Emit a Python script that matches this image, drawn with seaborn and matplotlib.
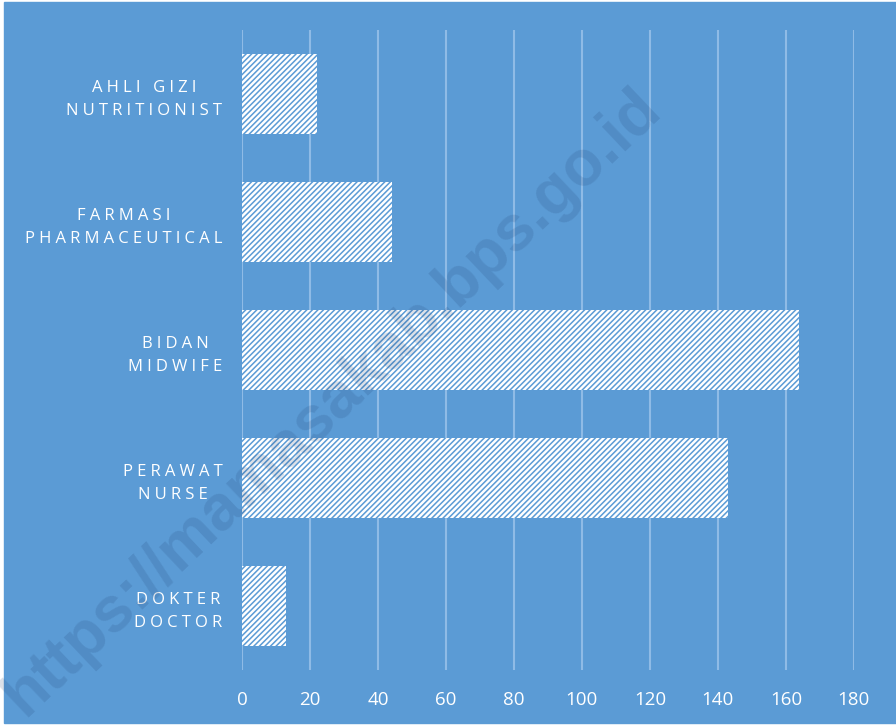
import matplotlib
matplotlib.use("Agg")
import matplotlib.pyplot as plt
import seaborn as sns
import pandas as pd

# data, top to bottom
categories = ["AHLI GIZI\nNUTRITIONIST", "FARMASI\nPHARMACEUTICAL", "BIDAN\nMIDWIFE",
              "PERAWAT\nNURSE", "DOKTER\nDOCTOR"]
values = [22, 44, 164, 143, 13]
xticks = [0, 20, 40, 60, 80, 100, 120, 140, 160, 180]

BG = "#5B9BD5"
GRID = "#8FBBE6"

sns.set_style("white")
plt.rcParams["font.family"] = ["Open Sans", "DejaVu Sans"]
plt.rcParams["hatch.linewidth"] = 1.1


def spaced(label):
    # widen the letter spacing like the original labels
    return "\n".join("\u2005".join(line) for line in label.split("\n"))


df = pd.DataFrame({"cat": categories, "val": values})

fig = plt.figure(figsize=(8.96, 7.25), dpi=100)
fig.patch.set_facecolor("white")
fig.patches.append(plt.Rectangle((4 / 896, 2 / 725), 1, 1 - 4 / 725,
                                 transform=fig.transFigure, color=BG, zorder=-10))
ax = fig.add_axes([0.270, 0.0759, 0.683, 0.8827])
ax.set_facecolor(BG)

sns.barplot(data=df, x="val", y="cat", orient="h", color="white", width=0.625,
            ax=ax, zorder=3)
for p in ax.patches:
    p.set_facecolor("white")
    p.set_edgecolor(BG)
    p.set_linewidth(0)
    p.set_hatch("//////")

ax.set_xlim(0, 180)
ax.set_xticks(xticks)
ax.xaxis.grid(True, color=GRID, linewidth=1.5, zorder=0)
ax.set_axisbelow(True)
for s in ax.spines.values():
    s.set_visible(False)
ax.tick_params(axis="both", length=0)
ax.tick_params(axis="x", colors="white", labelsize=13.5, pad=15)
ax.set_yticks(range(len(categories)))
ax.set_yticklabels([spaced(c) for c in categories], color="white", fontsize=12,
                   ha="right", multialignment="center", linespacing=1.6)
ax.tick_params(axis="y", pad=14)
ax.set_xlabel("")
ax.set_ylabel("")

fig.text(0.371, 0.445, "https://mamasakab.bps.go.id", rotation=43.5, fontsize=46,
         fontweight="bold", color="#1F3F6F", alpha=0.16, ha="center", va="center",
         family=["Liberation Sans", "DejaVu Sans"], zorder=10)

fig.savefig("out.png", dpi=100, facecolor=fig.get_facecolor())
